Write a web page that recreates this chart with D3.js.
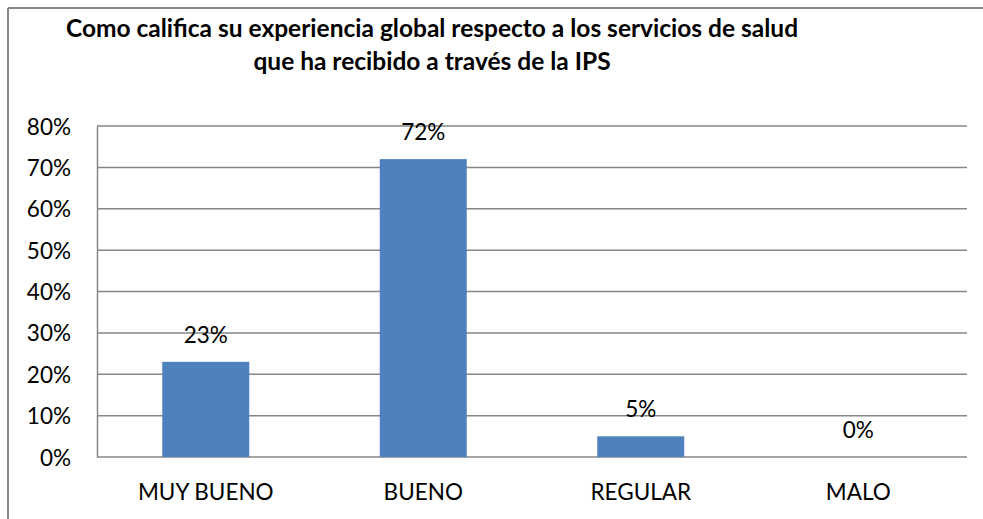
<!DOCTYPE html>
<html>
<head>
<meta charset="utf-8">
<script src="https://cdn.jsdelivr.net/npm/d3@7"></script>
<style>
  html, body { margin: 0; padding: 0; background: #fff; overflow: hidden; }
  svg { display: block; }
  text { font-family: Lato, "Open Sans", sans-serif; fill: #000; }
</style>
</head>
<body>
<svg id="chart" width="983" height="519"></svg>
<script>
// Survey results: overall rating of health services received via the IPS
const categories = ["MUY BUENO", "BUENO", "REGULAR", "MALO"];
const values = [0.23, 0.72, 0.05, 0.0];
const yTicks = [0, 0.1, 0.2, 0.3, 0.4, 0.5, 0.6, 0.7, 0.8];
const titleLines = [
  "Como califica su experiencia global respecto a los servicios de salud",
  "que ha recibido a través de la IPS"
];

const svg = d3.select("#chart");
const W = 983, H = 519;
const plot = { left: 97, right: 967, top: 126, bottom: 457 };
const labelSize = 22.5;

// outer chart frame: top and left edges (the rest lies outside the view)
const frame = svg.append("g").attr("stroke", "#868686").attr("stroke-width", 2);
frame.append("line").attr("x1", 8).attr("x2", W).attr("y1", 8).attr("y2", 8);
frame.append("line").attr("x1", 8).attr("x2", 8).attr("y1", 8).attr("y2", H);

// title
svg.append("g").selectAll("text")
  .data(titleLines)
  .join("text")
  .attr("x", 432)
  .attr("y", (d, i) => 37 + i * 33)
  .attr("text-anchor", "middle")
  .attr("font-weight", "bold")
  .attr("font-size", 24.5)
  .text(d => d);

const x = d3.scaleBand()
  .domain(categories)
  .range([plot.left, plot.right])
  .paddingInner(0.6)
  .paddingOuter(0.3);

const y = d3.scaleLinear()
  .domain([0, 0.8])
  .range([plot.bottom, plot.top]);

// horizontal gridlines
svg.append("g")
  .selectAll("line")
  .data(yTicks)
  .join("line")
  .attr("x1", plot.left).attr("x2", plot.right)
  .attr("y1", d => y(d)).attr("y2", d => y(d))
  .attr("stroke", "#868686")
  .attr("stroke-width", 1.5);

// y axis
const yAxis = svg.append("g")
  .attr("transform", `translate(${plot.left},0)`)
  .call(d3.axisLeft(y).tickValues(yTicks).tickFormat(d3.format(".0%")).tickSize(0).tickPadding(26));
yAxis.select(".domain").attr("stroke", "#868686").attr("stroke-width", 1.5);
yAxis.selectAll("text")
  .attr("font-size", labelSize)
  .attr("font-family", "Lato, sans-serif")
  .attr("fill", "#000")
  .attr("dy", "0.36em");

// bars
svg.append("g")
  .selectAll("rect")
  .data(values)
  .join("rect")
  .attr("x", (d, i) => x(categories[i]))
  .attr("y", d => y(d))
  .attr("width", x.bandwidth())
  .attr("height", d => y(0) - y(d))
  .attr("fill", "#4F81BD");

// value labels
svg.append("g")
  .selectAll("text")
  .data(values)
  .join("text")
  .attr("x", (d, i) => x(categories[i]) + x.bandwidth() / 2)
  .attr("y", d => y(d) - 19)
  .attr("text-anchor", "middle")
  .attr("font-size", labelSize)
  .text(d => d3.format(".0%")(d));

// category labels
const xAxis = svg.append("g")
  .attr("transform", `translate(0,${plot.bottom})`)
  .call(d3.axisBottom(x).tickSize(0).tickPadding(0));
xAxis.select(".domain").remove();
xAxis.selectAll("text")
  .attr("font-size", labelSize)
  .attr("font-family", "Lato, sans-serif")
  .attr("fill", "#000")
  .attr("y", 43)
  .attr("dy", 0);
</script>
</body>
</html>
